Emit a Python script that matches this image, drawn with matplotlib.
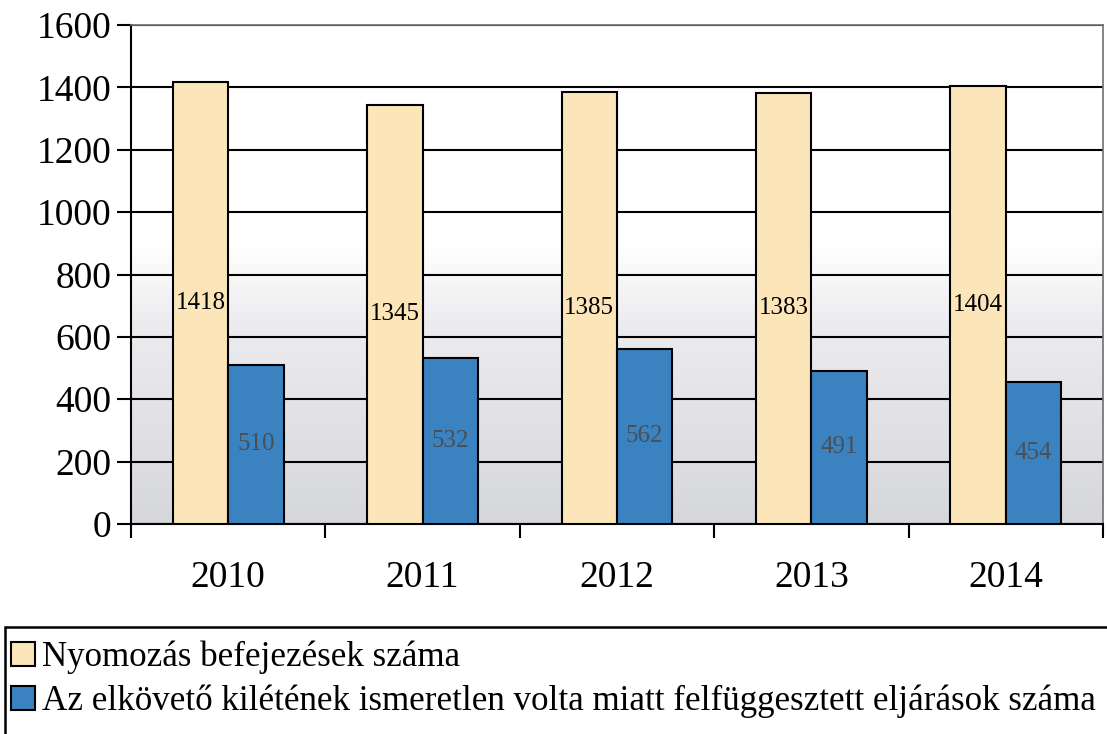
import numpy as np
import matplotlib.pyplot as plt
from matplotlib.patches import Rectangle
from matplotlib.colors import LinearSegmentedColormap

evek = ['2010', '2011', '2012', '2013', '2014']
befejezesek = [1418, 1345, 1385, 1383, 1404]
felfuggesztett = [510, 532, 562, 491, 454]
nev_1 = 'Nyomozás befejezések száma'
nev_2 = 'Az elkövető kilétének ismeretlen volta miatt felfüggesztett eljárások száma'

plt.rcParams['font.family'] = ['Liberation Serif', 'DejaVu Serif']

sarga = '#fce6b9'
kek = '#3a82c0'

fig = plt.figure(figsize=(11.07, 7.34), dpi=100)
ax = fig.add_axes([131/1107, 210/734, 972/1107, 499/734])

x = np.arange(len(evek))
w = 0.285

ax.set_xlim(-0.5, len(evek) - 0.5)
ax.set_ylim(0, 1600)

# háttér színátmenet
cmap = LinearSegmentedColormap.from_list('hatter', [(0, '#d6d7db'), (0.4, '#ececef'), (0.56, '#ffffff'), (1, '#ffffff')])
grad = np.linspace(0, 1, 256).reshape(-1, 1)
ax.imshow(grad, extent=[-0.5, len(evek) - 0.5, 0, 1600], origin='lower', aspect='auto', cmap=cmap, zorder=0)

ax.set_yticks(range(0, 1601, 200))
ax.yaxis.grid(True, color='black', linewidth=1.5, zorder=1)
ax.set_axisbelow(True)

b1 = ax.bar(x - w/2, befejezesek, w, color=sarga, edgecolor='black', linewidth=1.5, zorder=3, label=nev_1)
b2 = ax.bar(x + w/2, felfuggesztett, w, color=kek, edgecolor='black', linewidth=1.5, zorder=3, label=nev_2)

for i in range(len(evek)):
    ax.text(x[i] - w/2, befejezesek[i]/2, str(befejezesek[i]), ha='center', va='center', fontsize=18, color='black', zorder=4)
    ax.text(x[i] + w/2, felfuggesztett[i]/2, str(felfuggesztett[i]), ha='center', va='center', fontsize=18, color='#4a4f55', zorder=4)

ax.set_xticks(x)
ax.set_xticklabels(evek, fontsize=27)
ax.set_xticks(np.arange(-0.5, len(evek)), minor=True)
ax.tick_params(axis='x', which='major', length=0, pad=26)
ax.tick_params(axis='x', which='minor', length=10, width=1.5, direction='out')
ax.tick_params(axis='y', labelsize=27, length=10, width=1.5, direction='out', pad=4)

for s in ['left', 'bottom']:
    ax.spines[s].set_linewidth(1.5)
    ax.spines[s].set_color('black')
for s in ['top', 'right']:
    ax.spines[s].set_linewidth(1.2)
    ax.spines[s].set_color('#6e6e6e')

# jelmagyarázat kerete
fig.patches.append(Rectangle((5/1107, -0.02), 1.2, (734 - 627)/734 + 0.02, transform=fig.transFigure,
                             fill=False, edgecolor='black', linewidth=1.8))
fig.legend(handles=[b1, b2], loc='upper left', bbox_to_anchor=(4/1107, 1 - 634/734), frameon=False,
           fontsize=25.2, handlelength=0.68, handleheight=0.68, handletextpad=0.2, labelspacing=0.28,
           borderaxespad=0, borderpad=0.2)

fig.savefig('out.png', dpi=100)
